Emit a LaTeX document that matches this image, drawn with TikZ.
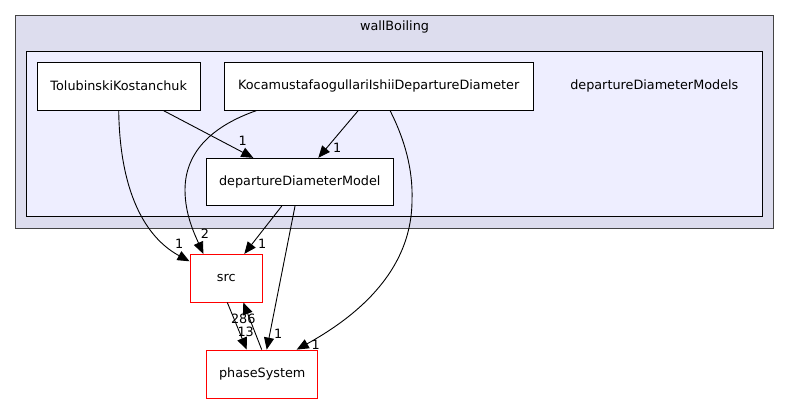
\documentclass[tikz,border=0pt]{standalone}
\usepackage{fontspec}
\setmainfont{DejaVu Sans}
\usetikzlibrary{arrows.meta}
\definecolor{outerfill}{HTML}{DDDDEE}
\definecolor{innerfill}{HTML}{EEEEFF}
\definecolor{outerline}{HTML}{444444}
\begin{document}
\begin{tikzpicture}[x=1pt,y=-1pt,
  txt/.style={font=\fontsize{12.8}{14}\selectfont, inner sep=0pt},
  box/.style={draw=black, fill=white, line width=0.9pt, inner sep=0pt, font=\fontsize{12.8}{14}\selectfont},
  redbox/.style={box, draw=red},
  edge/.style={draw=black, line width=0.9pt, -{Triangle[length=12pt,width=10pt]}},
  elab/.style={font=\fontsize{12.8}{14}\selectfont, inner sep=0pt}]
\useasboundingbox (0,0) rectangle (789,404);
% clusters
\draw[fill=outerfill, draw=outerline, line width=1.4pt] (15.7,15.7) rectangle (773.3,228.3);
\node[txt] (wb) at (394.5,27) {wallBoiling};
\draw[fill=innerfill, draw=black, line width=1pt] (26.3,51.3) rectangle (762.7,216.7);
\node[txt] (ddms) at (654.3,86) {departureDiameterModels};
% nodes
\node[box, minimum width=162.7pt, minimum height=47.7pt] (tol) at (118.7,86.2) {TolubinskiKostanchuk};
\node[box, minimum width=309.3pt, minimum height=47.7pt] (koca) at (378.7,86.2) {KocamustafaogullariIshiiDepartureDiameter};
\node[box, minimum width=186.3pt, minimum height=47.4pt] (ddm) at (299.8,182) {departureDiameterModel};
\node[redbox, minimum width=72.7pt, minimum height=47.7pt] (src) at (226.3,278.2) {src};
\node[redbox, minimum width=111pt, minimum height=48.3pt] (ph) at (262.2,374.2) {phaseSystem};
% edges
\draw[edge] (tol.south) .. controls (120,200) and (150,240) .. ([yshift=-7.4pt]src.north west);
\draw[edge] ([xshift=44.6pt]tol.south) -- ([xshift=-46.5pt]ddm.north);
\draw[edge] ([xshift=-20.4pt]koca.south) -- ([xshift=18.5pt]ddm.north);
\draw[edge] ([xshift=-122pt]koca.south) .. controls (215,125) and (185,150) .. (185,190) .. controls (185,215) and (195,235) .. ([xshift=-23pt]src.north);
\draw[edge] ([xshift=11.3pt]koca.south) .. controls (405,140) and (413,170) .. (412,200) .. controls (412,275) and (350,320) .. ([xshift=34.5pt]ph.north);
\draw[edge] ([xshift=-18.1pt]ddm.south) -- ([xshift=18pt]src.north);
\draw[edge] ([xshift=-4.8pt]ddm.south) -- ([xshift=4.5pt]ph.north);
\draw[edge] ([xshift=1pt]src.south) -- ([xshift=-15.5pt]ph.north);
\draw[edge] ([xshift=-0.5pt]ph.north) -- ([xshift=17pt]src.south);
% edge labels
\node[elab] (l1) at (179.3,244) {1};
\node[elab] (l2) at (242.7,141) {1};
\node[elab] (l3) at (337.3,148.3) {1};
\node[elab] (l4) at (205,234) {2};
\node[elab] (l5) at (315.7,345) {1};
\node[elab] (l6) at (262.3,244) {1};
\node[elab] (l7) at (278.3,334.3) {1};
\node[elab] (l8) at (245.7,331.5) {13};
\node[elab] (l9) at (243.3,319.2) {286};
\end{tikzpicture}
\end{document}
